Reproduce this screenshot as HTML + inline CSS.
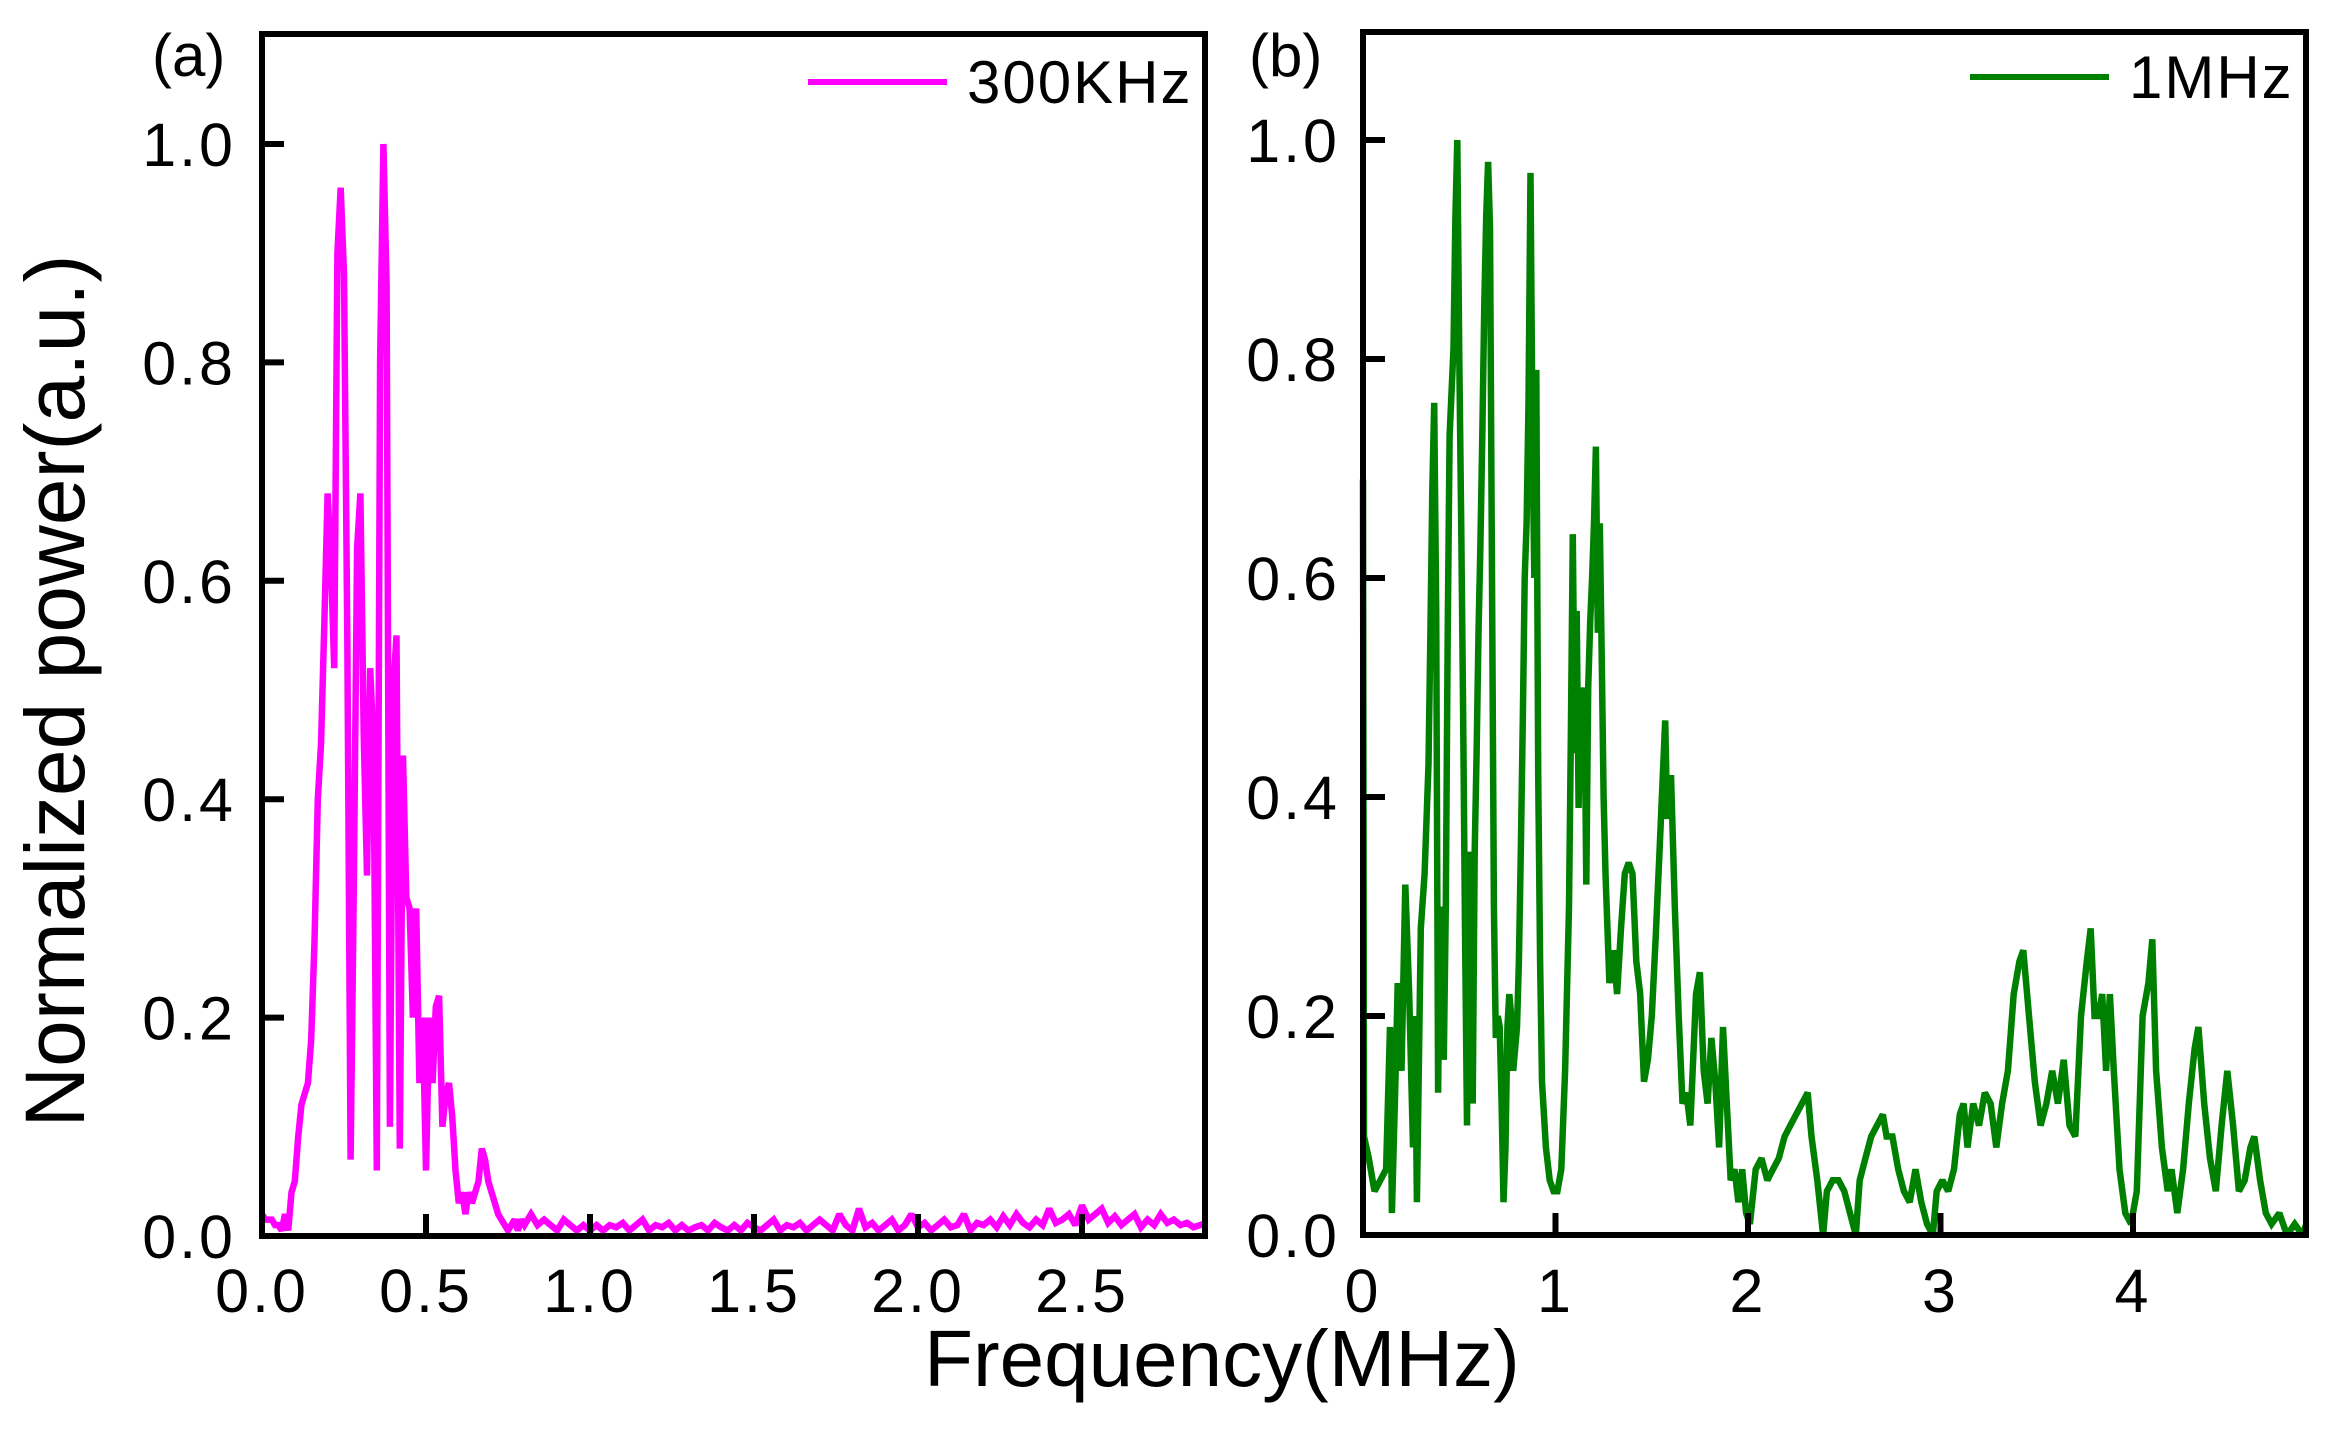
<!DOCTYPE html>
<html><head><meta charset="utf-8"><style>
html,body{margin:0;padding:0;background:#fff;}
svg{display:block;font-family:"Liberation Sans",Arial,sans-serif;}
</style></head><body>
<svg id="chart" width="2332" height="1443" viewBox="0 0 2332 1443">
<g id="pa"></g>
<g id="pb"></g>
<text x="62" y="691" font-size="84" text-anchor="middle" dominant-baseline="middle" transform="rotate(-90 62 691)">Normalized power(a.u.)</text>
<text x="1222" y="1386" font-size="80" text-anchor="middle">Frequency(MHz)</text>
</svg>
<script>
// Panel (a) 300KHz: values on 0.01 MHz grid from 0 to 0.80, then 0.02 grid from 0.82
const aStepStart = 0, aStep = 0.01;
const aPeakVals = [0.02,0.015,0.015,0.015,0.01,0.01,0.005,0.02,0.005,0.04,0.05,0.09,0.12,0.13,0.14,0.18,0.27,0.4,0.45,0.56,0.68,0.62,0.52,0.9,0.96,0.88,0.55,0.07,0.32,0.63,0.68,0.46,0.33,0.52,0.45,0.06,0.8,1.0,0.87,0.1,0.5,0.55,0.08,0.44,0.31,0.3,0.2,0.3,0.14,0.2,0.06,0.2,0.14,0.21,0.22,0.1,0.13,0.14,0.11,0.06,0.03,0.04,0.02,0.04,0.03,0.04,0.05,0.08,0.07,0.05,0.04,0.03,0.02,0.015,0.01,0.005,0.01,0.015,0.005,0.015,0.01];
const aTailStart = 0.82, aTailStep = 0.02;
const aTailVals = [0.02,0.01,0.015,0.01,0.005,0.015,0.01,0.005,0.01,0.005,0.01,0.005,0.01,0.008,0.012,0.005,0.01,0.015,0.005,0.01,0.008,0.012,0.005,0.01,0.005,0.008,0.01,0.005,0.012,0.008,0.005,0.01,0.005,0.012,0.008,0.005,0.01,0.015,0.005,0.01,0.008,0.012,0.005,0.01,0.015,0.01,0.005,0.02,0.01,0.005,0.025,0.008,0.012,0.005,0.01,0.015,0.005,0.01,0.02,0.008,0.012,0.005,0.01,0.015,0.008,0.01,0.02,0.005,0.012,0.01,0.015,0.008,0.018,0.01,0.02,0.012,0.008,0.015,0.01,0.025,0.012,0.015,0.02,0.01,0.028,0.015,0.02,0.025,0.012,0.018,0.01,0.015,0.02,0.008,0.015,0.01,0.02,0.012,0.015,0.01,0.012,0.008,0.01,0.012];
const aXTicks = [0,0.5,1.0,1.5,2.0,2.5];
const aXTickLabels = ["0.0","0.5","1.0","1.5","2.0","2.5"];
const yTicks = [0,0.2,0.4,0.6,0.8,1.0];
const yTickLabels = ["0.0","0.2","0.4","0.6","0.8","1.0"];
// Panel (b) 1MHz
const bFreq = [0,0.005,0.03,0.06,0.09,0.12,0.14,0.15,0.17,0.18,0.2,0.22,0.24,0.26,0.27,0.28,0.30,0.32,0.34,0.35,0.36,0.37,0.38,0.39,0.40,0.42,0.43,0.44,0.45,0.47,0.48,0.49,0.50,0.51,0.52,0.53,0.54,0.55,0.56,0.57,0.58,0.59,0.60,0.61,0.62,0.63,0.64,0.65,0.66,0.67,0.68,0.69,0.70,0.71,0.72,0.73,0.74,0.75,0.76,0.77,0.78,0.79,0.80,0.81,0.82,0.83,0.84,0.85,0.86,0.87,0.88,0.89,0.90,0.91,0.92,0.93,0.95,0.97,0.99,1.01,1.03,1.05,1.07,1.08,1.09,1.10,1.11,1.12,1.13,1.14,1.15,1.16,1.17,1.18,1.19,1.20,1.21,1.22,1.23,1.24,1.25,1.26,1.28,1.30,1.32,1.34,1.36,1.38,1.40,1.42,1.44,1.46,1.48,1.50,1.52,1.54,1.55,1.57,1.58,1.60,1.62,1.64,1.66,1.68,1.70,1.72,1.73,1.75,1.77,1.79,1.81,1.83,1.85,1.87,1.89,1.91,1.93,1.95,1.97,1.99,2.01,2.04,2.07,2.10,2.13,2.16,2.19,2.22,2.25,2.28,2.31,2.33,2.36,2.39,2.41,2.44,2.47,2.50,2.53,2.56,2.58,2.61,2.64,2.67,2.70,2.72,2.75,2.78,2.81,2.84,2.87,2.90,2.93,2.96,2.98,3.01,3.04,3.07,3.10,3.12,3.14,3.17,3.20,3.23,3.26,3.29,3.32,3.35,3.38,3.41,3.43,3.46,3.49,3.52,3.55,3.58,3.61,3.64,3.67,3.70,3.73,3.76,3.78,3.80,3.82,3.84,3.86,3.88,3.90,3.93,3.96,3.99,4.02,4.05,4.08,4.10,4.12,4.15,4.18,4.20,4.23,4.26,4.29,4.32,4.34,4.37,4.40,4.43,4.46,4.49,4.52,4.55,4.58,4.61,4.63,4.66,4.69,4.72,4.76,4.80,4.84,4.88,4.9];
const bPower = [0.69,0.09,0.07,0.04,0.05,0.06,0.19,0.02,0.15,0.23,0.15,0.32,0.22,0.08,0.2,0.03,0.28,0.33,0.43,0.55,0.68,0.76,0.57,0.13,0.3,0.16,0.3,0.55,0.73,0.81,0.93,1.0,0.8,0.65,0.48,0.28,0.1,0.35,0.33,0.12,0.35,0.44,0.55,0.63,0.73,0.85,0.93,0.98,0.92,0.6,0.3,0.18,0.2,0.19,0.12,0.03,0.08,0.19,0.22,0.2,0.15,0.17,0.19,0.25,0.35,0.47,0.6,0.65,0.76,0.97,0.74,0.6,0.79,0.42,0.25,0.14,0.08,0.05,0.04,0.04,0.06,0.15,0.3,0.46,0.64,0.44,0.57,0.39,0.5,0.44,0.5,0.32,0.5,0.56,0.6,0.65,0.72,0.55,0.65,0.53,0.4,0.33,0.23,0.26,0.22,0.28,0.33,0.34,0.33,0.25,0.22,0.14,0.16,0.2,0.27,0.35,0.39,0.47,0.38,0.42,0.3,0.2,0.12,0.13,0.1,0.18,0.22,0.24,0.15,0.12,0.18,0.14,0.08,0.19,0.12,0.05,0.06,0.03,0.06,0.02,0.01,0.06,0.07,0.05,0.06,0.07,0.09,0.1,0.11,0.12,0.13,0.09,0.05,0.0,0.04,0.05,0.05,0.04,0.02,0.0,0.05,0.07,0.09,0.1,0.11,0.09,0.09,0.06,0.04,0.03,0.06,0.03,0.01,0.0,0.04,0.05,0.04,0.06,0.11,0.12,0.08,0.12,0.1,0.13,0.12,0.08,0.12,0.15,0.22,0.25,0.26,0.2,0.14,0.1,0.12,0.15,0.12,0.16,0.1,0.09,0.2,0.25,0.28,0.2,0.2,0.22,0.15,0.22,0.15,0.06,0.02,0.01,0.04,0.2,0.23,0.27,0.15,0.08,0.04,0.06,0.02,0.06,0.12,0.17,0.19,0.12,0.07,0.04,0.1,0.15,0.1,0.04,0.05,0.08,0.09,0.05,0.02,0.01,0.02,0.0,0.01,0.0,0.01];
const bXTicks = [0,1,2,3,4];
const bXTickLabels = ["0","1","2","3","4"];

const NS = "http://www.w3.org/2000/svg";
function mk(tag, attrs, parent){const e=document.createElementNS(NS,tag);for(const k in attrs)e.setAttribute(k,attrs[k]);parent.appendChild(e);return e;}

function drawPanel(g, cfg){
  const sx = v => cfg.left + (v - 0) * (cfg.right - cfg.left) / cfg.xmax;
  const sy = v => cfg.bottom - v * cfg.yUnit;
  let d = "";
  cfg.xs.forEach((x,i)=>{ d += (i?"L":"M") + sx(x).toFixed(1) + " " + sy(cfg.ys[i]).toFixed(1); });
  const p = mk("path",{d:d,fill:"none",stroke:cfg.color,"stroke-width":6.5,"stroke-linejoin":"miter","stroke-miterlimit":2},g);
  
  
  const f = mk("rect",{x:cfg.left,y:cfg.top,width:cfg.right-cfg.left,height:cfg.bottom-cfg.top,fill:"none",stroke:"#000","stroke-width":6},g);
  
  
  yTicks.forEach((t,i)=>{
    const y = sy(t);
    const l = mk("line",{x1:cfg.left,x2:cfg.left+22,y1:y,y2:y,stroke:"#000","stroke-width":6},g);
    
    
    const tx = mk("text",{x:cfg.labelRight,y:y+22,"font-size":61,"text-anchor":"end","letter-spacing":3},g);
    tx.textContent = yTickLabels[i];
    
    
  });
  cfg.xticks.forEach((t,i)=>{
    const x = sx(t);
    const l = mk("line",{x1:x,x2:x,y1:cfg.bottom,y2:cfg.bottom-22,stroke:"#000","stroke-width":6},g);
    
    
    const tx = mk("text",{x:x,y:1312,"font-size":61,"text-anchor":"middle","letter-spacing":3},g);
    tx.textContent = cfg.xlabels[i];
    
    
  });
  const ll = mk("line",{x1:cfg.legX1,x2:cfg.legX2,y1:cfg.legY,y2:cfg.legY,stroke:cfg.color,"stroke-width":6},g);
  
  
  const lt = mk("text",{x:cfg.legX2+20,y:cfg.legY+21,"font-size":60,"letter-spacing":2},g);
  lt.textContent = cfg.legText;
  
  
  const pl = mk("text",{x:cfg.panelLabelX,y:76,"font-size":60},g);
  pl.textContent = cfg.panelLabel;
  
  
}

const aXs = [], aYs = [];
aPeakVals.forEach((v,i)=>{aXs.push(aStepStart + i*aStep); aYs.push(v);});
aTailVals.forEach((v,i)=>{aXs.push(aTailStart + i*aTailStep); aYs.push(v);});

drawPanel(document.getElementById("pa"),{name:"series-300khz",xs:aXs,ys:aYs,color:"#ff00ff",left:262,right:1205,top:34,bottom:1236,xmax:943/328,yUnit:1092,labelRight:236,xticks:aXTicks,xlabels:aXTickLabels,legX1:808,legX2:947,legY:82,legText:"300KHz",panelLabel:"(a)",panelLabelX:152});
drawPanel(document.getElementById("pb"),{name:"series-1mhz",xs:bFreq,ys:bPower,color:"#008000",left:1363,right:2306,top:32,bottom:1235,xmax:943/192.5,yUnit:1095,labelRight:1340,xticks:bXTicks,xlabels:bXTickLabels,legX1:1970,legX2:2109,legY:77,legText:"1MHz",panelLabel:"(b)",panelLabelX:1249});
</script>
</body></html>
